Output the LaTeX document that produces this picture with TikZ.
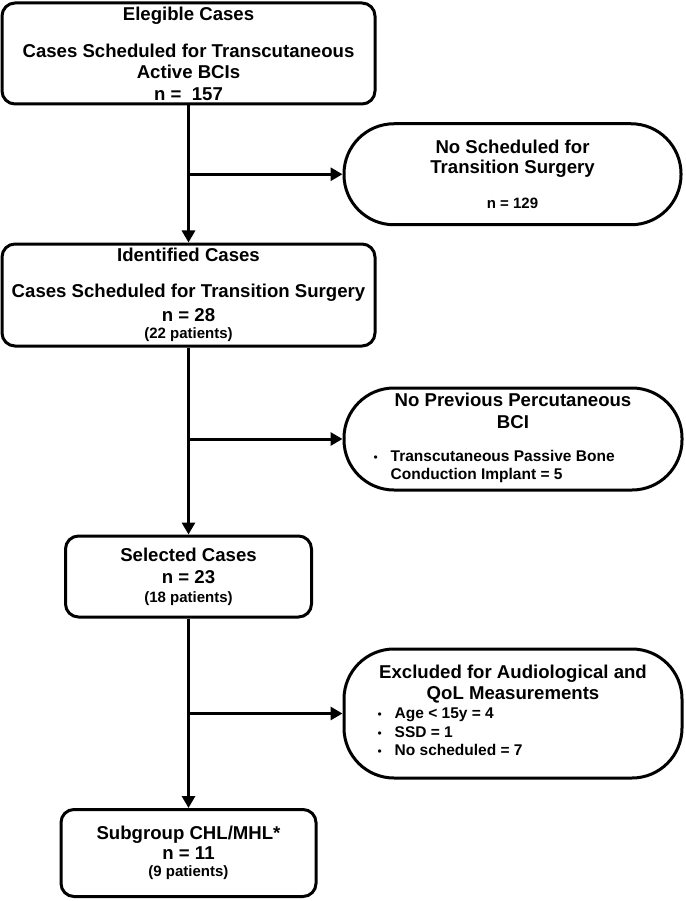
\documentclass[tikz,border=0pt]{standalone}
\usepackage{fontspec}
\setmainfont{Liberation Sans}
\usetikzlibrary{arrows.meta}
\newcommand\smtxt[1]{{\fontsize{15}{16}\selectfont#1}}
\newcommand\bul{{\fontsize{12}{12}\mdseries\textbullet}}
\begin{document}
\begin{tikzpicture}[x=1pt,y=-1pt,line width=3pt,
 box/.style={draw,rounded corners=13pt,align=center,inner sep=0pt,font=\fontsize{18.6}{21.5}\selectfont\bfseries},
 pill/.style={box,rounded corners=50pt},
 arr/.style={-{Triangle[length=12pt,width=13pt]}}]
\useasboundingbox (0,0) rectangle (685,901);
% main column
\node[box,minimum width=373pt,minimum height=101pt] (elig) at (188.5,53.5){Elegible Cases\\[15.5pt]Cases Scheduled for Transcutaneous\\Active BCIs\\n =\ \ 157};
\node[box,minimum width=373pt,minimum height=102pt] (ident) at (188.5,295){Identified Cases\\[14.5pt]Cases Scheduled for Transition Surgery\\[2.5pt]n = 28\\[-4.5pt]\smtxt{(22 patients)}};
\node[box,minimum width=246pt,minimum height=81pt] (sel) at (188.5,576.5){Selected Cases\\[0.5pt]n = 23\\[-2.5pt]\smtxt{(18 patients)}};
\node[box,minimum width=255pt,minimum height=87pt] (sub) at (188.5,853){Subgroup CHL/MHL*\\[-1.5pt]n = 11\\[-4.5pt]\smtxt{(9 patients)}};
% exclusions
\node[pill,minimum width=337pt,minimum height=101pt] (nosch) at (512.5,174.25){No Scheduled for\\[-1.5pt]Transition Surgery\\[13.5pt]\smtxt{n = 129}};
\node[pill,minimum width=338pt,minimum height=102pt] (noprev) at (513,439){No Previous Percutaneous\\[0.5pt]BCI\\[11.5pt]\makebox[279pt][l]{\fontsize{15.5}{18.5}\selectfont\begin{tabular}[t]{@{}l@{\hspace{13pt}}l@{}}\bul&Transcutaneous Passive Bone\\&Conduction Implant = 5\end{tabular}}};
\node[pill,minimum width=338pt,minimum height=129pt] (excl) at (513,713.5){Excluded for Audiological and\\[-0.5pt]QoL Measurements\\[-2.5pt]\makebox[271pt][l]{\fontsize{15.5}{18.5}\selectfont\begin{tabular}[t]{@{}l@{\hspace{13pt}}l@{}}\bul&Age < 15y = 4\\\bul&SSD = 1\\\bul&No scheduled = 7\end{tabular}}};
% arrows
\draw[arr] (elig.south) -- (ident.north);\draw[arr] (elig.south|-nosch.west) -- (nosch.west);
\draw[arr] (ident.south) -- (sel.north);\draw[arr] (ident.south|-noprev.west) -- (noprev.west);
\draw[arr] (sel.south) -- (sub.north);\draw[arr] (sel.south|-excl.west) -- (excl.west);
\end{tikzpicture}
\end{document}
